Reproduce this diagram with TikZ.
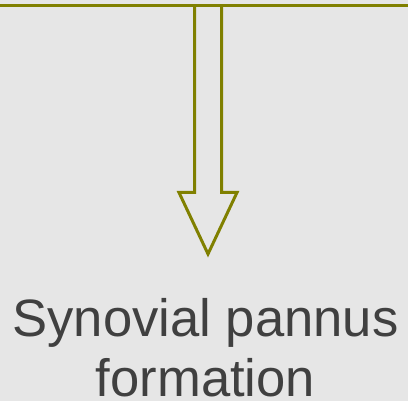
\documentclass[tikz,border=0pt]{standalone}
\usepackage{fontspec}
\setmainfont{Liberation Sans}
\definecolor{bgcol}{HTML}{E6E6E6}
\definecolor{olive}{HTML}{808000}
\definecolor{textcol}{HTML}{404040}
\tikzset{
  rail/.style={draw=olive, line width=3pt},
  hollowarrow/.style={draw=olive, line width=3pt, line join=miter, fill=bgcol},
  caption/.style={text=textcol, align=center, font=\fontsize{52.6}{60}\selectfont, inner sep=0pt}
}
\begin{document}
\begin{tikzpicture}[x=1pt, y=-1pt]
  % canvas
  \fill[bgcol] (0,0) rectangle (408,401);
  \useasboundingbox (0,0) rectangle (408,401);
  % hollow down arrow hanging from the rail
  \draw[hollowarrow] (194.5,6) -- (194.5,192.5) -- (179,192.5) -- (208,254) -- (237,192.5) -- (221.5,192.5) -- (221.5,6);
  % horizontal rail
  \coordinate (railL) at (0,6);
  \coordinate (railR) at (408,6);
  \draw[rail] (railL) -- (railR);
  % label (base anchor sits on the last line)
  \node[caption, anchor=base] (label) at (205.5,397) {Synovial pannus\\formation};
\end{tikzpicture}
\end{document}
